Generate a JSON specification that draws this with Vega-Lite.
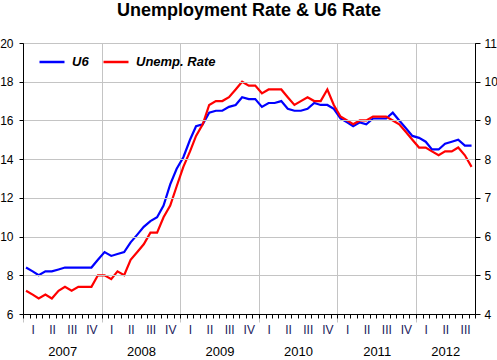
{
  "$schema": "https://vega.github.io/schema/vega-lite/v6.json",
  "width": 452,
  "height": 271,
  "autosize": {"type": "none"},
  "padding": {"left": 23, "top": 43, "right": 22, "bottom": 46},
  "background": "white",
  "title": {"text": "Unemployment Rate & U6 Rate", "font": "Liberation Sans", "fontSize": 18, "fontWeight": "bold", "color": "black", "baseline": "alphabetic", "anchor": "middle", "offset": 3},
  "config": {
    "view": {"stroke": "black", "strokeWidth": 1},
    "axis": {"labelFont": "Liberation Sans", "labelFontSize": 12, "labelColor": "black", "title": null, "domainColor": "black", "tickColor": "black", "gridColor": "#c4c4c4", "gridOpacity": 1},
    "legend": {"orient": "none", "legendX": 15, "legendY": 5, "direction": "horizontal", "symbolType": "stroke", "symbolSize": 625, "symbolStrokeWidth": 2.5, "labelFont": "Liberation Sans", "labelFontSize": 13, "labelFontWeight": "bold", "labelFontStyle": "italic", "labelColor": "black", "labelOffset": 6, "columnPadding": 9, "labelLimit": 200}
  },
  "data": {"values": [
    {"d": "2007-01-15", "u6": 8.4, "ur": 4.6}, {"d": "2007-02-15", "u6": 8.2, "ur": 4.5}, {"d": "2007-03-15", "u6": 8.0, "ur": 4.4}, {"d": "2007-04-15", "u6": 8.2, "ur": 4.5}, {"d": "2007-05-15", "u6": 8.2, "ur": 4.4}, {"d": "2007-06-15", "u6": 8.3, "ur": 4.6}, {"d": "2007-07-15", "u6": 8.4, "ur": 4.7}, {"d": "2007-08-15", "u6": 8.4, "ur": 4.6}, {"d": "2007-09-15", "u6": 8.4, "ur": 4.7}, {"d": "2007-10-15", "u6": 8.4, "ur": 4.7}, {"d": "2007-11-15", "u6": 8.4, "ur": 4.7}, {"d": "2007-12-15", "u6": 8.8, "ur": 5.0},
    {"d": "2008-01-15", "u6": 9.2, "ur": 5.0}, {"d": "2008-02-15", "u6": 9.0, "ur": 4.9}, {"d": "2008-03-15", "u6": 9.1, "ur": 5.1}, {"d": "2008-04-15", "u6": 9.2, "ur": 5.0}, {"d": "2008-05-15", "u6": 9.7, "ur": 5.4}, {"d": "2008-06-15", "u6": 10.1, "ur": 5.6}, {"d": "2008-07-15", "u6": 10.5, "ur": 5.8}, {"d": "2008-08-15", "u6": 10.8, "ur": 6.1}, {"d": "2008-09-15", "u6": 11.0, "ur": 6.1}, {"d": "2008-10-15", "u6": 11.6, "ur": 6.5}, {"d": "2008-11-15", "u6": 12.7, "ur": 6.8}, {"d": "2008-12-15", "u6": 13.5, "ur": 7.3},
    {"d": "2009-01-15", "u6": 14.1, "ur": 7.8}, {"d": "2009-02-15", "u6": 15.0, "ur": 8.2}, {"d": "2009-03-15", "u6": 15.7, "ur": 8.6}, {"d": "2009-04-15", "u6": 15.8, "ur": 8.9}, {"d": "2009-05-15", "u6": 16.4, "ur": 9.4}, {"d": "2009-06-15", "u6": 16.5, "ur": 9.5}, {"d": "2009-07-15", "u6": 16.5, "ur": 9.5}, {"d": "2009-08-15", "u6": 16.7, "ur": 9.6}, {"d": "2009-09-15", "u6": 16.8, "ur": 9.8}, {"d": "2009-10-15", "u6": 17.2, "ur": 10.0}, {"d": "2009-11-15", "u6": 17.1, "ur": 9.9}, {"d": "2009-12-15", "u6": 17.1, "ur": 9.9},
    {"d": "2010-01-15", "u6": 16.7, "ur": 9.7}, {"d": "2010-02-15", "u6": 16.9, "ur": 9.8}, {"d": "2010-03-15", "u6": 16.9, "ur": 9.8}, {"d": "2010-04-15", "u6": 17.0, "ur": 9.8}, {"d": "2010-05-15", "u6": 16.6, "ur": 9.6}, {"d": "2010-06-15", "u6": 16.5, "ur": 9.4}, {"d": "2010-07-15", "u6": 16.5, "ur": 9.5}, {"d": "2010-08-15", "u6": 16.6, "ur": 9.6}, {"d": "2010-09-15", "u6": 16.9, "ur": 9.5}, {"d": "2010-10-15", "u6": 16.8, "ur": 9.5}, {"d": "2010-11-15", "u6": 16.8, "ur": 9.8}, {"d": "2010-12-15", "u6": 16.6, "ur": 9.4},
    {"d": "2011-01-15", "u6": 16.1, "ur": 9.1}, {"d": "2011-02-15", "u6": 15.9, "ur": 9.0}, {"d": "2011-03-15", "u6": 15.7, "ur": 8.9}, {"d": "2011-04-15", "u6": 15.9, "ur": 9.0}, {"d": "2011-05-15", "u6": 15.8, "ur": 9.0}, {"d": "2011-06-15", "u6": 16.1, "ur": 9.1}, {"d": "2011-07-15", "u6": 16.1, "ur": 9.1}, {"d": "2011-08-15", "u6": 16.1, "ur": 9.1}, {"d": "2011-09-15", "u6": 16.4, "ur": 9.0}, {"d": "2011-10-15", "u6": 16.0, "ur": 8.9}, {"d": "2011-11-15", "u6": 15.6, "ur": 8.7}, {"d": "2011-12-15", "u6": 15.2, "ur": 8.5},
    {"d": "2012-01-15", "u6": 15.1, "ur": 8.3}, {"d": "2012-02-15", "u6": 14.9, "ur": 8.3}, {"d": "2012-03-15", "u6": 14.5, "ur": 8.2}, {"d": "2012-04-15", "u6": 14.5, "ur": 8.1}, {"d": "2012-05-15", "u6": 14.8, "ur": 8.2}, {"d": "2012-06-15", "u6": 14.9, "ur": 8.2}, {"d": "2012-07-15", "u6": 15.0, "ur": 8.3}, {"d": "2012-08-15", "u6": 14.7, "ur": 8.1}, {"d": "2012-09-15", "u6": 14.7, "ur": 7.8}
  ]},
  "layer": [
    {
      "mark": {"type": "line", "strokeWidth": 2.2, "clip": true},
      "encoding": {
        "x": {"field": "d", "type": "temporal",
              "scale": {"type": "utc", "nice": false, "domain": [{"year": 2007, "month": 1, "date": 1, "utc": true}, {"year": 2012, "month": 10, "date": 1, "utc": true}]},
              "axis": {"orient": "bottom", "tickCount": {"interval": "month", "step": 1}, "labels": false, "grid": false, "tickSize": 4, "domain": true, "zindex": 1}},
        "y": {"field": "u6", "type": "quantitative", "scale": {"domain": [6, 20], "nice": false, "zero": false},
              "axis": {"orient": "left", "values": [6, 8, 10, 12, 14, 16, 18, 20], "grid": true, "tickSize": 4, "labelPadding": 6, "zindex": 1}},
        "color": {"datum": "U6", "type": "nominal", "scale": {"domain": ["U6", "Unemp. Rate"], "range": ["#0000ff", "#ff0000"]}, "legend": {"title": null}}
      }
    },
    {
      "mark": {"type": "line", "strokeWidth": 2.2, "clip": true},
      "encoding": {
        "x": {"field": "d", "type": "temporal",
              "axis": {"orient": "bottom", "tickCount": {"interval": "year", "step": 1}, "labels": false, "grid": true, "tickSize": 8, "tickColor": "#c4c4c4", "domain": false}},
        "y": {"field": "ur", "type": "quantitative", "scale": {"domain": [4, 11], "nice": false, "zero": false},
              "axis": {"orient": "right", "values": [4, 5, 6, 7, 8, 9, 10, 11], "grid": false, "tickSize": 5, "labelPadding": 4, "zindex": 1}},
        "color": {"datum": "Unemp. Rate", "type": "nominal"}
      }
    },
    {
      "mark": {"type": "line", "opacity": 0},
      "encoding": {
        "x": {"field": "d", "type": "temporal",
              "axis": {"orient": "bottom", "ticks": false, "domain": false, "grid": false, "labelPadding": 10, "labelFontSize": 12, "labelColor": "#1c1a5c", "labelFlush": false, "labelOverlap": false, "labelBound": false,
                       "labelExpr": "['I','II','III','IV'][floor(utcmonth(datum.value)/3)]",
                       "values": [
                         {"year": 2007, "month": 2, "date": 15, "utc": true}, {"year": 2007, "month": 5, "date": 16, "utc": true}, {"year": 2007, "month": 8, "date": 16, "utc": true}, {"year": 2007, "month": 11, "date": 15, "utc": true},
                         {"year": 2008, "month": 2, "date": 15, "utc": true}, {"year": 2008, "month": 5, "date": 16, "utc": true}, {"year": 2008, "month": 8, "date": 16, "utc": true}, {"year": 2008, "month": 11, "date": 15, "utc": true},
                         {"year": 2009, "month": 2, "date": 15, "utc": true}, {"year": 2009, "month": 5, "date": 16, "utc": true}, {"year": 2009, "month": 8, "date": 16, "utc": true}, {"year": 2009, "month": 11, "date": 15, "utc": true},
                         {"year": 2010, "month": 2, "date": 15, "utc": true}, {"year": 2010, "month": 5, "date": 16, "utc": true}, {"year": 2010, "month": 8, "date": 16, "utc": true}, {"year": 2010, "month": 11, "date": 15, "utc": true},
                         {"year": 2011, "month": 2, "date": 15, "utc": true}, {"year": 2011, "month": 5, "date": 16, "utc": true}, {"year": 2011, "month": 8, "date": 16, "utc": true}, {"year": 2011, "month": 11, "date": 15, "utc": true},
                         {"year": 2012, "month": 2, "date": 15, "utc": true}, {"year": 2012, "month": 5, "date": 16, "utc": true}, {"year": 2012, "month": 8, "date": 16, "utc": true}
                       ]}},
        "y": {"field": "u6", "type": "quantitative", "axis": null}
      }
    },
    {
      "mark": {"type": "line", "opacity": 0},
      "encoding": {
        "x": {"field": "d", "type": "temporal",
              "axis": {"orient": "bottom", "ticks": false, "domain": false, "grid": false, "labelPadding": 31, "labelFontSize": 13, "labelFlush": false, "labelOverlap": false, "labelBound": false,
                       "labelExpr": "utcFormat(datum.value, '%Y')",
                       "values": [
                         {"year": 2007, "month": 7, "date": 2, "utc": true}, {"year": 2008, "month": 7, "date": 2, "utc": true}, {"year": 2009, "month": 7, "date": 2, "utc": true}, {"year": 2010, "month": 7, "date": 2, "utc": true}, {"year": 2011, "month": 7, "date": 2, "utc": true}, {"year": 2012, "month": 5, "date": 16, "utc": true}
                       ]}},
        "y": {"field": "u6", "type": "quantitative", "axis": null}
      }
    }
  ],
  "resolve": {"scale": {"y": "independent"}, "axis": {"x": "independent", "y": "independent"}}
}
